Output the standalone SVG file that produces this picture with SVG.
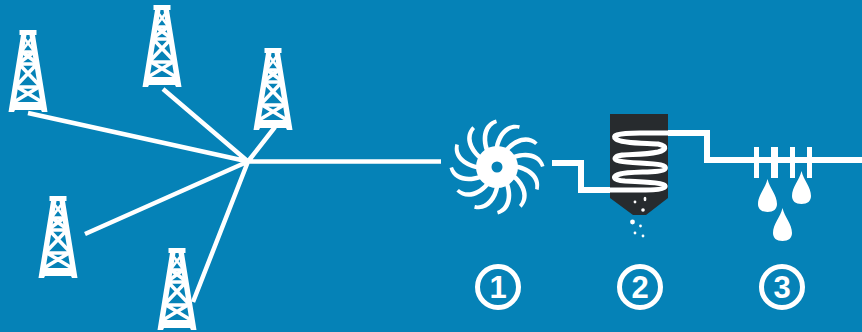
<svg xmlns="http://www.w3.org/2000/svg" width="862" height="332" viewBox="0 0 862 332">
<style>
.ln{fill:none;stroke:#fff;stroke-linecap:butt;stroke-linejoin:miter}
.w{fill:#fff}
.num{font-family:"Liberation Sans",Arial,sans-serif;font-weight:700;font-size:31px;fill:#fff;text-anchor:middle}
.ring{fill:none;stroke:#fff;stroke-width:5}
</style>
<defs>
<g id="derrick">
<rect class="w" x="-8.500" y="0" width="17" height="5"/>
<path class="w" d="M-7,5 H-1.500 L-13,76 H13 L1.500,5 H7 L19.500,82 H14 L13,80 H-13 L-14,82 H-19.500 Z"/>
<path class="w" d="M-15,72 H15 V80 H-15Z"/>
<path class="ln" stroke-width="3.600" d="M-12.500,57 H12.500 M-9.500,34 H9.500 M-7,22 H7 M-14,72 L11,57 M14,72 L-11,57 M-12,56 L8,35 M12,56 L-8,35 M-9,33 L6,22 M9,33 L-6,22"/>
<path class="ln" stroke-width="2.600" d="M-6,21 L3,9 M6,21 L-3,9"/>
</g>
<path id="blade" class="w" d="M-12,-16 C-17,-30 -14,-44 -1,-47.500 L0,-44 C-9,-41 -12,-30 -8,-18 Z"/>
<path id="drop" class="w" d="M0,0 C2,9 9.500,16 9.500,25 C9.500,30 6,33 0,33 C-6,33 -9.500,30 -9.500,25 C-9.500,16 -2,9 0,0Z"/>
</defs>
<rect width="862" height="332" fill="#0582b7"/>
<g id="connectors">
<path class="ln" stroke-width="4.500" d="M28,113 L248,161.500 M163,89 L248,161.500 M275,127 L248,161.500 M85,234 L248,161.500 M193,302 L248,161.500 M248,161.500 H441"/>
<path class="ln" stroke-width="6" d="M552,163 H581 V190 H610"/>
<path class="ln" stroke-width="6" d="M668,133 H707 V160 H862"/>
</g>
<g id="well-1"><use href="#derrick" x="28" y="30"/></g>
<g id="well-2"><use href="#derrick" x="162" y="5"/></g>
<g id="well-3"><use href="#derrick" x="273" y="48"/></g>
<g id="well-4"><use href="#derrick" x="58" y="196"/></g>
<g id="well-5"><use href="#derrick" x="177" y="248"/></g>
<g id="turbine" transform="translate(497,167)">
<path class="w" fill-rule="evenodd" d="M-21,0a21,21 0 1,0 42,0a21,21 0 1,0 -42,0Z M-5.500,0a5.500,5.500 0 1,1 11,0a5.500,5.500 0 1,1 -11,0Z"/>
<use href="#blade"/><use href="#blade" transform="rotate(30)"/><use href="#blade" transform="rotate(60)"/><use href="#blade" transform="rotate(90)"/><use href="#blade" transform="rotate(120)"/><use href="#blade" transform="rotate(150)"/><use href="#blade" transform="rotate(180)"/><use href="#blade" transform="rotate(210)"/><use href="#blade" transform="rotate(240)"/><use href="#blade" transform="rotate(270)"/><use href="#blade" transform="rotate(300)"/><use href="#blade" transform="rotate(330)"/>
</g>
<g id="exchanger">
<path fill="#272b2e" d="M610,114 H668 V198 L646,215 H633 L610,198Z"/>
<path class="ln" stroke-width="5" d="M668,133 H640 C615,133 612,136 616,139 C622,144 650,143 658,144 C668,146 666,150 658,152 C640,156 620,153 616,157 C612,161 622,162 640,163 C660,164 667,165 665,169 C663,173 630,171 620,174 C612,176 612,180 625,181 C650,182 667,183 665,187 C663,191 640,190 610,190"/>
<g class="w"><circle cx="635" cy="202" r="1.400"/><ellipse cx="645" cy="199" rx="1.400" ry="2.200"/><circle cx="643" cy="210" r="1.800"/><circle cx="632.500" cy="222" r="2.400"/><circle cx="640.500" cy="226" r="1.400"/><circle cx="635" cy="233" r="1.400"/><circle cx="643" cy="236" r="1.400"/></g>
</g>
<g id="separator">
<rect class="w" x="754" y="147" width="5" height="31"/>
<rect class="w" x="771" y="147" width="7" height="31"/>
<rect class="w" x="790" y="147" width="5" height="31"/>
<rect class="w" x="807" y="147" width="5" height="31"/>
<use href="#drop" x="767.500" y="179"/>
<use href="#drop" x="801.500" y="171"/>
<use href="#drop" x="782.500" y="208"/>
</g>
<g id="step-1"><circle class="ring" cx="498" cy="287" r="20.500"/><text class="num" x="498" y="298">1</text></g>
<g id="step-2"><circle class="ring" cx="640" cy="287" r="20.500"/><text class="num" x="640" y="298">2</text></g>
<g id="step-3"><circle class="ring" cx="782" cy="287" r="20.500"/><text class="num" x="782" y="298">3</text></g>
</svg>
